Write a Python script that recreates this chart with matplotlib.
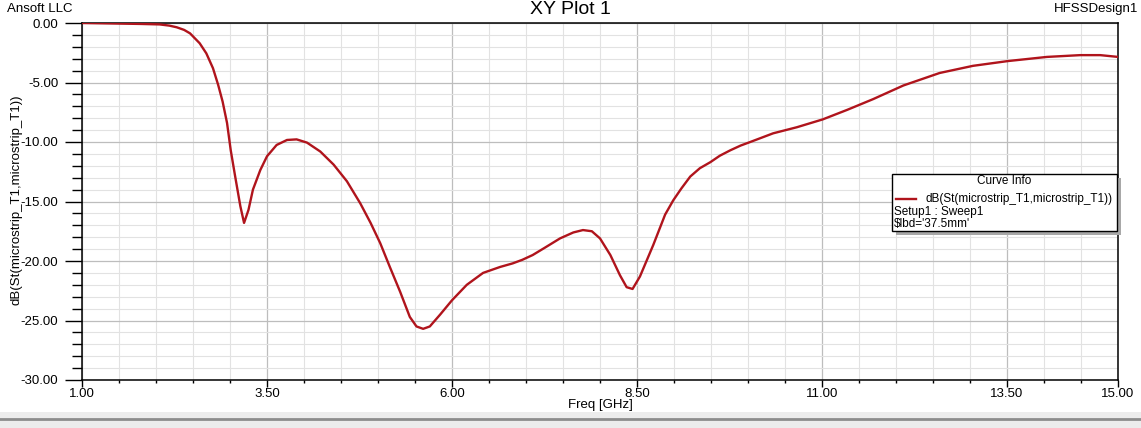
import matplotlib.pyplot as plt
from matplotlib.patches import Rectangle
from matplotlib.lines import Line2D
from matplotlib.ticker import MultipleLocator, FixedLocator

# curve
freq_ghz = [1.00, 1.50, 1.80, 2.05, 2.18, 2.28, 2.38, 2.46, 2.59, 2.68, 2.77,
            2.84, 2.90, 2.96, 3.01, 3.07, 3.14, 3.19, 3.25, 3.31, 3.41, 3.50,
            3.63, 3.77, 3.90, 4.04, 4.22, 4.40, 4.58, 4.76, 4.90, 5.03, 5.16,
            5.30, 5.43, 5.52, 5.61, 5.70, 5.84, 6.00, 6.20, 6.42, 6.65, 6.82,
            6.95, 7.09, 7.25, 7.46, 7.64, 7.77, 7.89, 8.00, 8.14, 8.27, 8.36,
            8.44, 8.54, 8.72, 8.88, 8.99, 9.10, 9.22, 9.35, 9.49, 9.62, 9.76,
            9.90, 10.03, 10.34, 10.66, 11.01, 11.34, 11.69, 12.10, 12.59,
            13.04, 13.51, 14.04, 14.49, 14.76, 15.00]
s11_db = [0.00, -0.05, -0.08, -0.12, -0.22, -0.36, -0.58, -0.87, -1.70, -2.55, -3.80,
          -5.20, -6.60, -8.40, -10.7, -12.9, -15.4, -16.8, -15.7, -14.0, -12.35, -11.2,
          -10.25, -9.83, -9.78, -10.05, -10.8, -11.9, -13.3, -15.15, -16.8, -18.5, -20.5,
          -22.6, -24.7, -25.5, -25.7, -25.5, -24.5, -23.3, -22.0, -21.0, -20.5, -20.2,
          -19.9, -19.5, -18.9, -18.1, -17.6, -17.4, -17.5, -18.1, -19.5, -21.2, -22.2,
          -22.35, -21.3, -18.65, -16.1, -14.9, -13.9, -12.9, -12.2, -11.7, -11.15, -10.7,
          -10.3, -10.0, -9.27, -8.76, -8.10, -7.30, -6.40, -5.25, -4.20,
          -3.60, -3.20, -2.85, -2.70, -2.70, -2.85]

x_ticks = [1.00, 3.50, 6.00, 8.50, 11.00, 13.50, 15.00]
y_ticks = [0.0, -5.0, -10.0, -15.0, -20.0, -25.0, -30.0]

W, H = 1141, 428
LINE_COLOR = '#b0141c'

plt.rcParams['font.family'] = ['Liberation Sans', 'DejaVu Sans']


def fx(px):
    return px / W


def fy(py):
    return 1 - py / H


fig = plt.figure(figsize=(W / 100, H / 100), dpi=100)
ax = fig.add_axes([fx(82), fy(380), fx(1118) - fx(82), fy(23) - fy(380)])

ax.plot(freq_ghz, s11_db, color=LINE_COLOR, lw=1.7, zorder=3,
        solid_joinstyle='round')

ax.set_xlim(1, 15)
ax.set_ylim(-30, 0)
ax.xaxis.set_major_locator(FixedLocator(x_ticks))
ax.xaxis.set_minor_locator(MultipleLocator(0.5))
ax.yaxis.set_major_locator(FixedLocator(y_ticks))
ax.yaxis.set_minor_locator(MultipleLocator(1))
ax.set_xticklabels([f'{t:.2f}' for t in x_ticks])
ax.set_yticklabels([f'{t:.2f}' for t in y_ticks])

# grid: light minor lines, darker major ones
ax.grid(which='minor', color='#e2e2e2', lw=0.8)
ax.grid(which='major', color='#bdbdbd', lw=0.9)
ax.set_axisbelow(True)

ax.tick_params(axis='y', which='major', length=12, width=1, pad=5, labelsize=9.5)
ax.tick_params(axis='y', which='minor', length=7, width=1)
ax.tick_params(axis='x', which='major', length=5, width=1, pad=1, labelsize=9.5)
ax.tick_params(axis='x', which='minor', length=2.5, width=1)
for s in ax.spines.values():
    s.set_color('black')
    s.set_linewidth(1.1)

ax.set_xlabel('Freq [GHz]', fontsize=9.5, labelpad=-1)
fig.text(fx(17), fy(200), 'dB(St(microstrip_T1,microstrip_T1))', rotation=90,
         ha='center', va='center', fontsize=9.5)

fig.text(fx(570), fy(10), 'XY Plot 1', ha='center', va='center', fontsize=14)
fig.text(fx(7), fy(9), 'Ansoft LLC', ha='left', va='center', fontsize=9.5)
fig.text(fx(1138), fy(9), 'HFSSDesign1', ha='right', va='center', fontsize=9.5)

# legend box "Curve Info"
fig.patches.append(Rectangle((fx(896), fy(235)), fx(225), fy(0) - fy(57),
                             transform=fig.transFigure, facecolor='#a8a8a8',
                             edgecolor='none', zorder=5))
fig.patches.append(Rectangle((fx(892), fy(231)), fx(225), fy(0) - fy(57),
                             transform=fig.transFigure, facecolor='white',
                             edgecolor='black', lw=1, zorder=6))
fig.text(fx(1004), fy(181), 'Curve Info', ha='center', va='center', fontsize=8.5, zorder=7)
fig.add_artist(Line2D([fx(896), fx(916)], [fy(199), fy(199)], color=LINE_COLOR,
                      lw=1.7, transform=fig.transFigure, zorder=7))
fig.text(fx(925), fy(199), 'dB(St(microstrip_T1,microstrip_T1))', ha='left',
         va='center', fontsize=8.5, zorder=7)
fig.text(fx(894), fy(212), 'Setup1 : Sweep1', ha='left', va='center', fontsize=8.5, zorder=7)
fig.text(fx(894), fy(224), "\\$lbd='37.5mm'", ha='left', va='center', fontsize=8.5, zorder=7)

# window scrollbar strip along the bottom
fig.patches.append(Rectangle((0, 0), 1, fy(412), transform=fig.transFigure,
                             facecolor='#ececec', edgecolor='none', zorder=1))
fig.add_artist(Line2D([0, 1], [fy(419), fy(419)], color='#8c8c8c', lw=2,
                      transform=fig.transFigure))

fig.savefig('out.png', dpi=100)
